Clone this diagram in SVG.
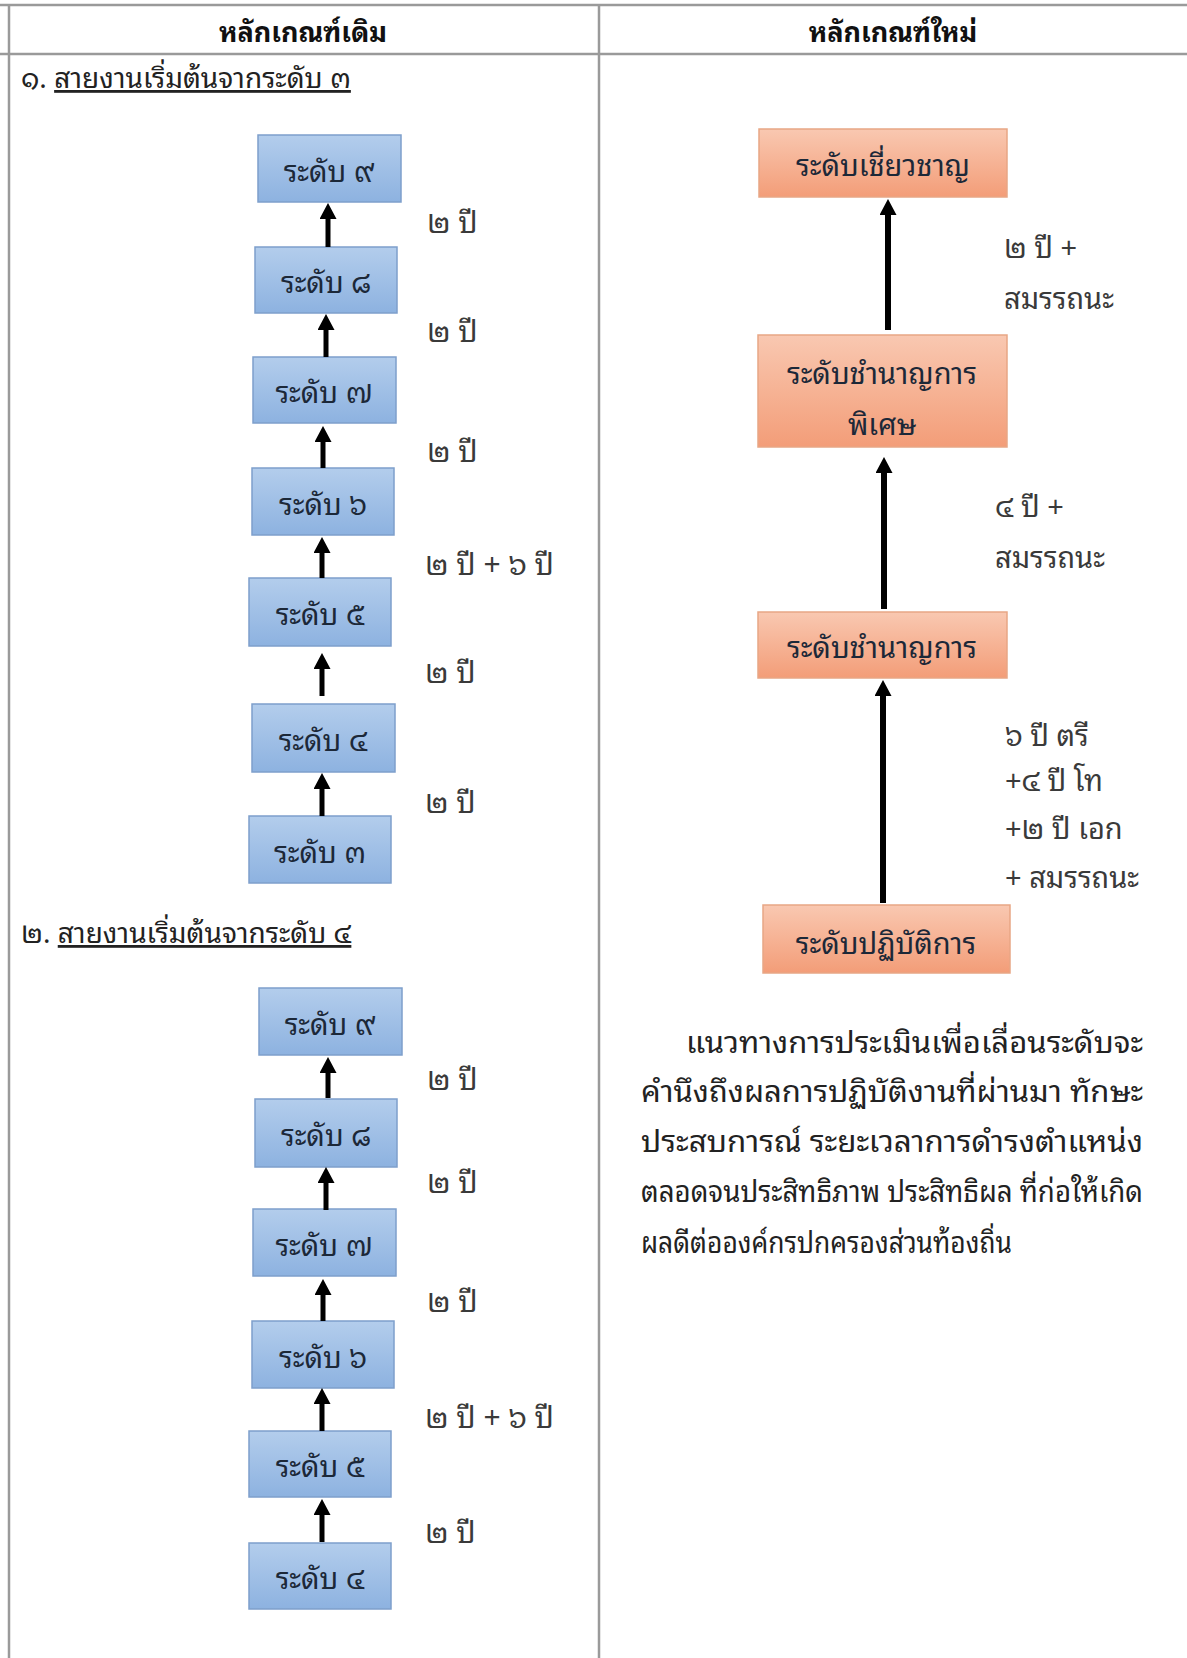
<svg xmlns="http://www.w3.org/2000/svg" width="1187" height="1658" viewBox="0 0 1187 1658">
<defs>
<linearGradient id="gb" x1="0" y1="0" x2="0" y2="1"><stop offset="0" stop-color="#B3CDEC"/><stop offset="1" stop-color="#8DB2E0"/></linearGradient>
<linearGradient id="go" x1="0" y1="0" x2="0" y2="1"><stop offset="0" stop-color="#F9C8B1"/><stop offset="1" stop-color="#F39D78"/></linearGradient>
<marker id="ah" markerUnits="userSpaceOnUse" markerWidth="16" markerHeight="17" viewBox="0 0 16 17" refX="4" refY="8.5" orient="auto"><path d="M0,0 L16,8.5 L0,17 Z" fill="#000"/></marker>
<style>
text{font-family:'Noto Sans Thai Looped','Noto Sans Thai','Noto Sans','DejaVu Sans',sans-serif}
.hd{font-size:27px;font-weight:bold;fill:#111;text-anchor:middle}
.sec{font-size:28px;fill:#222}
.bl rect{fill:url(#gb);stroke:#7E9FCB;stroke-width:1.5}
.or rect{fill:url(#go);stroke:#E8A685;stroke-width:1.5}
.nt{font-size:29px;fill:#1C2838;text-anchor:middle}
.lb{font-size:30px;fill:#3a3a3a}
.lr{font-size:29px;fill:#3a3a3a}
.par{font-size:29px;fill:#222}
.grid{stroke:#9a9a9a;stroke-width:2.5;fill:none}
.arr{stroke:#000;stroke-width:5;marker-end:url(#ah)}
.arw{stroke:#000;stroke-width:6;marker-end:url(#ah)}
</style>
</defs>
<rect width="1187" height="1658" fill="#fff"/>
<g id="table">
<line class="grid" x1="0" y1="5" x2="1187" y2="5"/>
<line class="grid" x1="0" y1="54" x2="1187" y2="54"/>
<line class="grid" x1="9" y1="5" x2="9" y2="1658"/>
<line class="grid" x1="599" y1="5" x2="599" y2="1658"/>
<text class="hd" x="303" y="42">หลักเกณฑ์เดิม</text>
<text class="hd" x="893" y="42">หลักเกณฑ์ใหม่</text>
</g>
<g id="sec1"><text class="sec" x="21" y="88">๑. <tspan text-decoration="underline">สายงานเริ่มต้นจากระดับ ๓</tspan></text></g>
<g id="sec2"><text class="sec" x="21" y="943">๒. <tspan text-decoration="underline">สายงานเริ่มต้นจากระดับ ๔</tspan></text></g>
<g id="a9" class="bl"><rect x="258" y="135" width="143" height="67"/><text class="nt" x="329" y="182">ระดับ ๙</text></g>
<g id="a8" class="bl"><rect x="255" y="247" width="142" height="66"/><text class="nt" x="326" y="293">ระดับ ๘</text></g>
<g id="a7" class="bl"><rect x="253" y="357" width="143" height="66"/><text class="nt" x="324" y="403">ระดับ ๗</text></g>
<g id="a6" class="bl"><rect x="252" y="468" width="142" height="67"/><text class="nt" x="323" y="515">ระดับ ๖</text></g>
<g id="a5" class="bl"><rect x="249" y="578" width="142" height="68"/><text class="nt" x="320" y="625">ระดับ ๕</text></g>
<g id="a4" class="bl"><rect x="252" y="704" width="143" height="68"/><text class="nt" x="323" y="751">ระดับ ๔</text></g>
<g id="a3" class="bl"><rect x="249" y="816" width="142" height="67"/><text class="nt" x="320" y="863">ระดับ ๓</text></g>
<g id="b9" class="bl"><rect x="259" y="988" width="143" height="67"/><text class="nt" x="330" y="1035">ระดับ ๙</text></g>
<g id="b8" class="bl"><rect x="255" y="1099" width="142" height="68"/><text class="nt" x="326" y="1146">ระดับ ๘</text></g>
<g id="b7" class="bl"><rect x="253" y="1209" width="143" height="67"/><text class="nt" x="324" y="1256">ระดับ ๗</text></g>
<g id="b6" class="bl"><rect x="252" y="1321" width="142" height="67"/><text class="nt" x="323" y="1368">ระดับ ๖</text></g>
<g id="b5" class="bl"><rect x="249" y="1431" width="142" height="66"/><text class="nt" x="320" y="1477">ระดับ ๕</text></g>
<g id="b4" class="bl"><rect x="249" y="1543" width="142" height="66"/><text class="nt" x="320" y="1589">ระดับ ๔</text></g>
<g id="r1" class="or"><rect x="759" y="129" width="248" height="68"/><text class="nt" x="883" y="176">ระดับเชี่ยวชาญ</text></g>
<g id="r2" class="or"><rect x="758" y="335" width="249" height="112"/><text class="nt" x="882" y="384">ระดับชำนาญการ</text><text class="nt" x="882" y="435">พิเศษ</text></g>
<g id="r3" class="or"><rect x="758" y="612" width="249" height="66"/><text class="nt" x="882" y="658">ระดับชำนาญการ</text></g>
<g id="r4" class="or"><rect x="763" y="905" width="247" height="68"/><text class="nt" x="886" y="954">ระดับปฏิบัติการ</text></g>
<g id="connectors">
<line class="arr" x1="328" y1="247" x2="328" y2="215"/>
<line class="arr" x1="326" y1="357" x2="326" y2="326"/>
<line class="arr" x1="323" y1="468" x2="323" y2="438"/>
<line class="arr" x1="322" y1="578" x2="322" y2="549"/>
<line class="arr" x1="322" y1="696" x2="322" y2="665"/>
<line class="arr" x1="322" y1="816" x2="322" y2="785"/>
<line class="arr" x1="328" y1="1098" x2="328" y2="1069"/>
<line class="arr" x1="326" y1="1210" x2="326" y2="1179"/>
<line class="arr" x1="323" y1="1321" x2="323" y2="1291"/>
<line class="arr" x1="322" y1="1431" x2="322" y2="1400"/>
<line class="arr" x1="322" y1="1542" x2="322" y2="1511"/>
<line class="arw" x1="888" y1="330" x2="888" y2="211"/>
<line class="arw" x1="884" y1="609" x2="884" y2="469"/>
<line class="arw" x1="883" y1="903" x2="883" y2="692"/>
</g>
<g id="labels">
<text class="lb" x="427" y="233">๒ ปี</text>
<text class="lb" x="427" y="342">๒ ปี</text>
<text class="lb" x="427" y="462">๒ ปี</text>
<text class="lb" x="425" y="575">๒ ปี + ๖ ปี</text>
<text class="lb" x="425" y="683">๒ ปี</text>
<text class="lb" x="425" y="813">๒ ปี</text>
<text class="lb" x="427" y="1090">๒ ปี</text>
<text class="lb" x="427" y="1193">๒ ปี</text>
<text class="lb" x="427" y="1312">๒ ปี</text>
<text class="lb" x="425" y="1428">๒ ปี + ๖ ปี</text>
<text class="lb" x="425" y="1543">๒ ปี</text>
<text class="lr" x="1004" y="258">๒ ปี +</text>
<text class="lr" x="1004" y="309">สมรรถนะ</text>
<text class="lr" x="995" y="517">๔ ปี +</text>
<text class="lr" x="995" y="568">สมรรถนะ</text>
<text class="lr" x="1005" y="746">๖ ปี ตรี</text>
<text class="lr" x="1005" y="791">+๔ ปี โท</text>
<text class="lr" x="1005" y="839">+๒ ปี เอก</text>
<text class="lr" x="1005" y="888">+ สมรรถนะ</text>
</g>
<g id="paragraph">
<text class="par" x="686" y="1053" textLength="457" lengthAdjust="spacingAndGlyphs">แนวทางการประเมินเพื่อเลื่อนระดับจะ</text>
<text class="par" x="641" y="1102" textLength="502" lengthAdjust="spacingAndGlyphs">คำนึงถึงผลการปฏิบัติงานที่ผ่านมา ทักษะ</text>
<text class="par" x="641" y="1152" textLength="502" lengthAdjust="spacingAndGlyphs">ประสบการณ์ ระยะเวลาการดำรงตำแหน่ง</text>
<text class="par" x="641" y="1202" textLength="502" lengthAdjust="spacingAndGlyphs">ตลอดจนประสิทธิภาพ ประสิทธิผล ที่ก่อให้เกิด</text>
<text class="par" x="641" y="1253" textLength="371" lengthAdjust="spacingAndGlyphs">ผลดีต่อองค์กรปกครองส่วนท้องถิ่น</text>
</g>
</svg>
